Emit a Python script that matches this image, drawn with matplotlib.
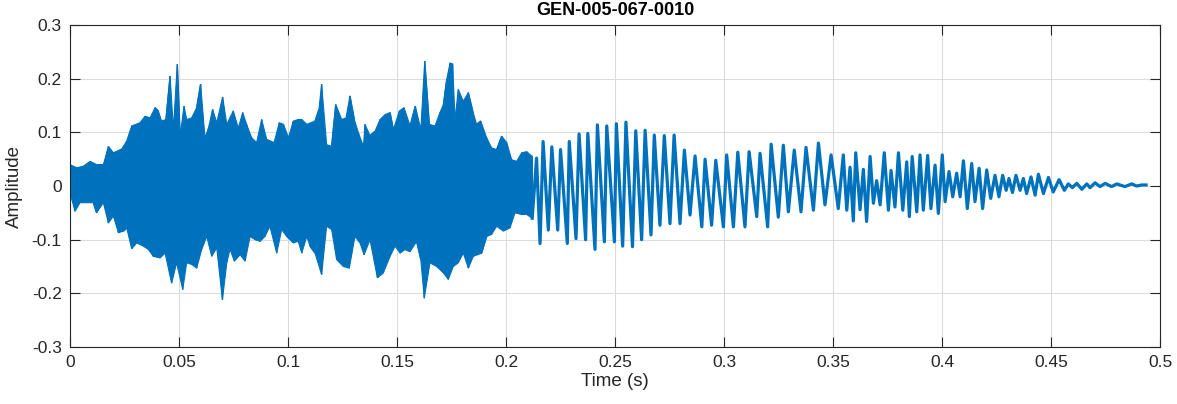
import numpy as np
import matplotlib.pyplot as plt

# dense part of the recording (0 - 0.212 s): spike tops and bottoms
upper_t = [0.0000, 0.0031, 0.0061, 0.0092, 0.0122, 0.0153, 0.0176, 0.0199, 0.0237, 0.0260,
           0.0283, 0.0321, 0.0344, 0.0367, 0.0390, 0.0405, 0.0420, 0.0440, 0.0459, 0.0474,
           0.0492, 0.0505, 0.0523, 0.0535, 0.0558, 0.0581, 0.0599, 0.0619, 0.0635, 0.0654,
           0.0673, 0.0700, 0.0719, 0.0749, 0.0772, 0.0792, 0.0810, 0.0833, 0.0856, 0.0879,
           0.0902, 0.0936, 0.0960, 0.0979, 0.1002, 0.1024, 0.1047, 0.1063, 0.1086, 0.1124,
           0.1142, 0.1154, 0.1177, 0.1200, 0.1219, 0.1246, 0.1266, 0.1284, 0.1304, 0.1323,
           0.1346, 0.1353, 0.1376, 0.1399, 0.1422, 0.1445, 0.1468, 0.1483, 0.1511, 0.1532,
           0.1560, 0.1584, 0.1609, 0.1627, 0.1648, 0.1674, 0.1697, 0.1713, 0.1728, 0.1743,
           0.1755, 0.1766, 0.1781, 0.1804, 0.1827, 0.1847, 0.1865, 0.1884, 0.1911, 0.1934,
           0.1957, 0.1980, 0.2003, 0.2026, 0.2049, 0.2072, 0.2095, 0.2120]
upper_v = [0.040, 0.034, 0.037, 0.046, 0.040, 0.040, 0.074, 0.062, 0.069, 0.084,
           0.112, 0.118, 0.130, 0.127, 0.146, 0.140, 0.121, 0.124, 0.205, 0.106,
           0.227, 0.093, 0.149, 0.124, 0.127, 0.146, 0.190, 0.090, 0.108, 0.143,
           0.118, 0.166, 0.115, 0.140, 0.108, 0.137, 0.115, 0.090, 0.081, 0.124,
           0.087, 0.081, 0.118, 0.115, 0.090, 0.121, 0.124, 0.124, 0.115, 0.121,
           0.143, 0.190, 0.077, 0.074, 0.152, 0.124, 0.127, 0.168, 0.124, 0.099,
           0.074, 0.115, 0.094, 0.102, 0.124, 0.133, 0.137, 0.105, 0.140, 0.146,
           0.112, 0.149, 0.105, 0.233, 0.115, 0.112, 0.137, 0.152, 0.199, 0.229,
           0.227, 0.124, 0.180, 0.158, 0.174, 0.140, 0.115, 0.121, 0.090, 0.071,
           0.068, 0.093, 0.081, 0.049, 0.046, 0.062, 0.064, 0.055]

lower_t = [0.0000, 0.0023, 0.0046, 0.0076, 0.0107, 0.0122, 0.0153, 0.0176, 0.0199, 0.0222,
           0.0245, 0.0260, 0.0283, 0.0306, 0.0336, 0.0359, 0.0382, 0.0413, 0.0436, 0.0466,
           0.0489, 0.0517, 0.0535, 0.0558, 0.0581, 0.0604, 0.0627, 0.0650, 0.0673, 0.0699,
           0.0719, 0.0734, 0.0754, 0.0780, 0.0803, 0.0826, 0.0849, 0.0872, 0.0894, 0.0917,
           0.0948, 0.0971, 0.0994, 0.1024, 0.1047, 0.1063, 0.1086, 0.1101, 0.1124, 0.1154,
           0.1177, 0.1200, 0.1223, 0.1254, 0.1281, 0.1307, 0.1330, 0.1349, 0.1376, 0.1410,
           0.1437, 0.1468, 0.1491, 0.1514, 0.1537, 0.1560, 0.1590, 0.1609, 0.1625, 0.1651,
           0.1682, 0.1713, 0.1735, 0.1758, 0.1781, 0.1804, 0.1827, 0.1850, 0.1888, 0.1911,
           0.1934, 0.1957, 0.1988, 0.2018, 0.2041, 0.2072, 0.2095, 0.2120]
lower_v = [-0.013, -0.047, -0.031, -0.031, -0.031, -0.050, -0.031, -0.069, -0.056, -0.087,
           -0.084, -0.078, -0.117, -0.106, -0.112, -0.118, -0.131, -0.134, -0.125, -0.181,
           -0.143, -0.193, -0.143, -0.146, -0.153, -0.118, -0.094, -0.131, -0.115, -0.212,
           -0.143, -0.118, -0.140, -0.128, -0.140, -0.094, -0.100, -0.103, -0.094, -0.075,
           -0.125, -0.081, -0.094, -0.106, -0.103, -0.125, -0.094, -0.112, -0.125, -0.165,
           -0.075, -0.081, -0.137, -0.150, -0.153, -0.094, -0.106, -0.128, -0.100, -0.171,
           -0.162, -0.131, -0.112, -0.125, -0.118, -0.122, -0.103, -0.137, -0.209, -0.143,
           -0.150, -0.162, -0.174, -0.150, -0.143, -0.125, -0.153, -0.131, -0.125, -0.094,
           -0.090, -0.075, -0.084, -0.078, -0.050, -0.053, -0.053, -0.060]

# tonal tail (0.212 - 0.494 s): successive peaks and troughs
tail_t = [0.2120, 0.2140, 0.2156, 0.2170, 0.2194, 0.2210, 0.2237, 0.2250, 0.2281, 0.2290,
          0.2321, 0.2335, 0.2365, 0.2375, 0.2408, 0.2419, 0.2451, 0.2462, 0.2497, 0.2506,
          0.2535, 0.2550, 0.2580, 0.2595, 0.2622, 0.2638, 0.2665, 0.2680, 0.2706, 0.2726,
          0.2752, 0.2771, 0.2798, 0.2818, 0.2844, 0.2867, 0.2898, 0.2913, 0.2943, 0.2962,
          0.2997, 0.3012, 0.3043, 0.3063, 0.3096, 0.3115, 0.3150, 0.3165, 0.3200, 0.3216,
          0.3249, 0.3272, 0.3295, 0.3322, 0.3353, 0.3376, 0.3410, 0.3433, 0.3463, 0.3491,
          0.3524, 0.3547, 0.3563, 0.3578, 0.3593, 0.3604, 0.3624, 0.3639, 0.3654, 0.3670,
          0.3685, 0.3700, 0.3716, 0.3735, 0.3754, 0.3766, 0.3784, 0.3800, 0.3820, 0.3838,
          0.3850, 0.3863, 0.3884, 0.3899, 0.3914, 0.3934, 0.3949, 0.3968, 0.3983, 0.4001,
          0.4014, 0.4032, 0.4049, 0.4067, 0.4083, 0.4098, 0.4116, 0.4136, 0.4151, 0.4170,
          0.4186, 0.4205, 0.4223, 0.4243, 0.4261, 0.4278, 0.4294, 0.4307, 0.4323, 0.4339,
          0.4358, 0.4373, 0.4388, 0.4408, 0.4427, 0.4442, 0.4465, 0.4488, 0.4510, 0.4537,
          0.4561, 0.4579, 0.4598, 0.4618, 0.4641, 0.4664, 0.4679, 0.4702, 0.4725, 0.4748,
          0.4778, 0.4801, 0.4839, 0.4870, 0.4893, 0.4916, 0.4936]
tail_v = [-0.060, 0.052, -0.107, 0.083, -0.082, 0.073, -0.082, 0.068, -0.107, 0.083,
          -0.098, 0.097, -0.100, 0.098, -0.118, 0.114, -0.104, 0.112, -0.104, 0.116,
          -0.112, 0.119, -0.113, 0.103, -0.100, 0.104, -0.091, 0.095, -0.073, 0.094,
          -0.070, 0.095, -0.070, 0.067, -0.054, 0.056, -0.076, 0.050, -0.073, 0.048,
          -0.076, 0.058, -0.076, 0.063, -0.076, 0.064, -0.057, 0.061, -0.076, 0.078,
          -0.058, 0.076, -0.048, 0.067, -0.048, 0.072, -0.045, 0.080, -0.035, 0.058,
          -0.042, 0.058, -0.045, 0.035, -0.065, 0.062, -0.044, 0.031, -0.066, 0.055,
          -0.032, 0.010, -0.035, 0.062, -0.045, 0.029, -0.039, 0.062, -0.045, 0.045,
          -0.057, 0.055, -0.048, 0.058, -0.045, 0.057, -0.042, 0.039, -0.051, 0.058,
          -0.029, 0.027, -0.020, 0.024, -0.020, 0.047, -0.042, 0.042, -0.029, 0.033,
          -0.042, 0.030, -0.023, 0.020, -0.020, 0.020, -0.008, 0.014, -0.012, 0.020,
          -0.008, 0.014, -0.014, 0.017, -0.017, 0.022, -0.014, 0.016, -0.011, 0.012,
          -0.008, 0.004, -0.003, 0.005, -0.006, 0.004, -0.003, 0.006, -0.001, 0.005,
          -0.001, 0.004, -0.001, 0.004, 0.000, 0.002, 0.002]

x_ticks = [0, 0.05, 0.1, 0.15, 0.2, 0.25, 0.3, 0.35, 0.4, 0.45, 0.5]
x_labels = ['0', '0.05', '0.1', '0.15', '0.2', '0.25', '0.3', '0.35', '0.4', '0.45', '0.5']
y_ticks = [-0.3, -0.2, -0.1, 0, 0.1, 0.2, 0.3]
y_labels = ['-0.3', '-0.2', '-0.1', '0', '0.1', '0.2', '0.3']

plt.rcParams['font.family'] = ['Liberation Sans', 'DejaVu Sans']
line_color = '#0072BD'
axis_color = '#262626'

fig = plt.figure(figsize=(11.77, 4.04), dpi=100)
ax = fig.add_axes([0.0595, 0.141, 0.9261, 0.797])

# dense section: envelope polygon plus zig-zag through the spikes
ax.fill(upper_t + lower_t[::-1], upper_v + lower_v[::-1],
        color=line_color, linewidth=0.8)
dense = sorted(zip(upper_t + lower_t, upper_v + lower_v))
ax.plot([p[0] for p in dense], [p[1] for p in dense], color=line_color,
        linewidth=1.0, solid_joinstyle='miter')

# tonal tail
ax.plot(tail_t, tail_v, color=line_color, linewidth=2.3, solid_joinstyle='round')

ax.set_xlim(0, 0.5)
ax.set_ylim(-0.3, 0.3)
ax.set_xticks(x_ticks)
ax.set_xticklabels(x_labels)
ax.set_yticks(y_ticks)
ax.set_yticklabels(y_labels)

ax.grid(True, color='#dcdcdc', linewidth=0.8)
ax.set_axisbelow(True)
ax.tick_params(direction='in', length=7, width=0.8, colors=axis_color,
               labelsize=12.5, top=True, right=True, pad=6)
for s in ax.spines.values():
    s.set_color(axis_color)
    s.set_linewidth(0.8)

ax.set_xlabel('Time (s)', fontsize=13.5, color=axis_color, labelpad=2)
ax.set_ylabel('Amplitude', fontsize=13.5, color=axis_color, labelpad=6)
ax.set_title('GEN-005-067-0010', fontsize=13, fontweight='bold', color='black', pad=7)

fig.savefig('out.png', dpi=100)
